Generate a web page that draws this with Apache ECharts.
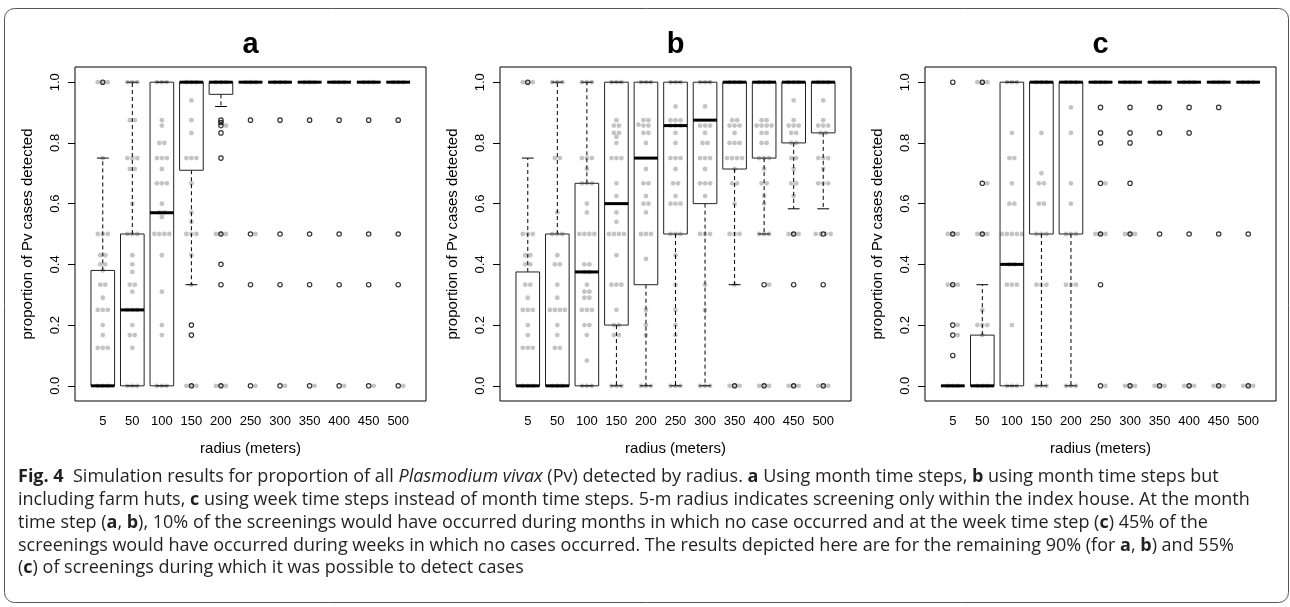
<!DOCTYPE html>
<html><head><meta charset="utf-8">
<script src="https://cdn.jsdelivr.net/npm/echarts@6/dist/echarts.min.js"></script>
<style>html,body{margin:0;padding:0;background:#fff}#c{width:1290px;height:607px}</style>
</head><body><div id="c"></div>
<script>
// ---------- DATA ----------
const radius = ['5','50','100','150','200','250','300','350','400','450','500'];
const yTicks = [0, 0.2, 0.4, 0.6, 0.8, 1.0];

// box stats per radius: [lower whisker, Q1, median, Q3, upper whisker]
const boxA = [
  [0,0,0,0.38,0.75],[0,0,0.25,0.5,1],[0,0,0.57,1,1],[0.333,0.71,1,1,1],[0.92,0.96,1,1,1],
  [1,1,1,1,1],[1,1,1,1,1],[1,1,1,1,1],[1,1,1,1,1],[1,1,1,1,1],[1,1,1,1,1]
];
const boxB = [
  [0,0,0,0.375,0.75],[0,0,0,0.5,1],[0,0,0.375,0.667,1],[0,0.2,0.6,1,1],[0,0.333,0.75,1,1],
  [0,0.5,0.857,1,1],[0,0.6,0.875,1,1],[0.333,0.714,1,1,1],[0.5,0.75,1,1,1],[0.583,0.8,1,1,1],[0.583,0.833,1,1,1]
];
const boxC = [
  [0,0,0,0,0],[0,0,0,0.167,0.333],[0,0,0.4,1,1],[0,0.5,1,1,1],[0,0.5,1,1,1],
  [1,1,1,1,1],[1,1,1,1,1],[1,1,1,1,1],[1,1,1,1,1],[1,1,1,1,1],[1,1,1,1,1]
];

// outliers per radius
const outA = [
  [1],[],[],[0.2,0.167,0],[0.875,0.867,0.857,0.833,0.75,0.5,0.4,0.333,0],
  [0.875,0.5,0.333,0],[0.875,0.5,0.333,0],[0.875,0.5,0.333,0],[0.875,0.5,0.333,0],[0.875,0.5,0.333,0],[0.875,0.5,0.333,0]
];
const outB = [
  [1],[],[],[],[],[],[],[0],[0.333,0],[0.5,0.333,0],[0.5,0.333,0]
];
const outC = [
  [1,0.5,0.333,0.2,0.167,0.1],[1,0.667,0.5],[],[],[],
  [0.917,0.833,0.8,0.667,0.5,0.333,0],[0.917,0.833,0.8,0.667,0.5,0],[0.917,0.833,0.5,0],[0.917,0.833,0.5,0],[0.917,0.5,0],[0.5,0]
];

// individual simulation results (grey dots): [value, number of dots, horizontal shift]
const ptsA = [
  [[1,3],[0.75,1],[0.5,3],[0.43,2],[0.4,2],[0.38,1],[0.333,2],[0.29,1],[0.25,3],[0.2,1],[0.167,1],[0.125,3],[0,3]],
  [[1,3],[0.875,2],[0.75,3],[0.714,2],[0.6,1],[0.5,3],[0.43,1],[0.4,1],[0.375,1],[0.333,2],[0.31,1],[0.25,3],[0.2,1],[0.167,2],[0.125,1],[0,3]],
  [[1,3],[0.875,1],[0.857,1],[0.8,2],[0.75,3],[0.714,1],[0.667,3],[0.6,1],[0.571,2],[0.556,1],[0.5,4],[0.43,1],[0.31,1],[0.2,1],[0.167,1],[0,3]],
  [[1,3],[0.94,1],[0.875,1],[0.833,1],[0.75,3],[0.667,1],[0.571,1],[0.54,1],[0.5,3],[0.43,1],[0.333,1],[0,3]],
  [[1,3],[0.857,1,1],[0.5,3],[0,3]],
  [[1,3],[0.5,1,1],[0,1,1]],
  [[1,3],[0,1,1]],[[1,3],[0,1,1]],[[1,3],[0,1,1]],[[1,3],[0,1,1]],[[1,3],[0,1,1]]
];
const ptsB = [
  [[1,3],[0.5,3],[0.43,2],[0.4,2],[0.333,2],[0.29,1],[0.25,3],[0.2,1],[0.167,1],[0.125,3],[0,3]],
  [[1,3],[0.75,2],[0.571,1],[0.5,3],[0.43,1],[0.4,2],[0.333,1],[0.29,1],[0.25,4],[0.2,1],[0.167,1],[0.125,2],[0,3]],
  [[1,3],[0.75,3],[0.714,1],[0.667,3],[0.6,1],[0.571,1],[0.5,4],[0.4,2],[0.375,2],[0.333,1],[0.31,2],[0.29,2],[0.25,3],[0.2,2],[0.167,1],[0.083,1],[0,3]],
  [[1,3],[0.875,1],[0.857,2],[0.833,2],[0.82,1],[0.8,1],[0.75,3],[0.667,1],[0.625,1],[0.571,1],[0.54,1],[0.5,4],[0.43,1],[0.333,3],[0.25,1],[0.2,2],[0.167,2],[0,3]],
  [[1,3],[0.875,2],[0.86,1,-1.5],[0.857,2],[0.833,2],[0.8,1],[0.714,1],[0.667,2],[0.625,1],[0.6,2],[0.571,1],[0.5,3],[0.418,1],[0.25,1],[0.2,1],[0.167,1],[0,3]],
  [[1,3],[0.92,1],[0.875,3],[0.857,3],[0.833,1],[0.8,1],[0.75,3],[0.714,1],[0.667,2],[0.625,1],[0.6,3],[0.5,3],[0.43,1],[0.333,1],[0.25,1],[0.2,1],[0.167,1],[0,3]],
  [[1,3],[0.92,1],[0.857,3],[0.833,1],[0.8,2],[0.75,3],[0.714,1],[0.667,3],[0.625,1],[0.5,3],[0.333,1],[0.25,1],[0,3]],
  [[1,3],[0.875,2],[0.857,3],[0.833,1],[0.8,3],[0.75,4],[0.714,1],[0.667,2],[0.6,1],[0.5,3],[0.333,1],[0,3]],
  [[1,3],[0.875,2],[0.857,4],[0.833,2],[0.8,2],[0.75,3],[0.714,1],[0.667,2],[0.625,1],[0.6,1],[0.5,3],[0.333,1,1],[0,3]],
  [[1,3],[0.94,1],[0.875,1],[0.857,3],[0.833,2],[0.8,2],[0.75,2],[0.714,1],[0.667,2],[0.625,1],[0.5,3],[0,3]],
  [[1,3],[0.94,1],[0.875,1],[0.857,3],[0.833,2],[0.75,3],[0.714,1],[0.667,3],[0.5,4],[0,3]]
];
const ptsC = [
  [[0.5,3],[0.333,3],[0.2,1,1],[0.167,1,1],[0,3]],
  [[1,3],[0.667,1,1],[0.5,3],[0.25,1],[0.2,3],[0.167,1],[0,3]],
  [[1,3],[0.833,1],[0.75,2],[0.667,1],[0.6,2],[0.5,5],[0.4,2],[0.333,3],[0.2,1],[0,3]],
  [[1,3],[0.833,1],[0.7,1],[0.667,2],[0.6,2],[0.5,3],[0.333,3],[0,3]],
  [[1,3],[0.917,1],[0.833,1],[0.667,1],[0.6,1],[0.5,3],[0.333,3],[0,3]],
  [[1,3],[0.667,1,1],[0.5,3],[0,1,1]],
  [[1,3],[0.5,3],[0,3]],
  [[1,3],[0,3]],[[1,3],[0,3]],[[1,3],[0,3]],[[1,3],[0,3]]
];

const panelTitles = ['a','b','c'];
const yName = 'proportion of Pv cases detected';
const xName = 'radius (meters)';
const captionLines = [
  '{b|Fig. 4}  Simulation results for proportion of all {i|Plasmodium vivax} (Pv) detected by radius. {b|a} Using month time steps, {b|b} using month time steps but',
  'including farm huts, {b|c} using week time steps instead of month time steps. 5-m radius indicates screening only within the index house. At the month',
  'time step ({b|a}, {b|b}), 10% of the screenings would have occurred during months in which no case occurred and at the week time step ({b|c}) 45% of the',
  'screenings would have occurred during weeks in which no cases occurred. The results depicted here are for the remaining 90% (for {b|a}, {b|b}) and 55%',
  '({b|c}) of screenings during which it was possible to detect cases'
];

// ---------- LAYOUT / STYLE ----------
const FONT = 'Liberation Sans, Arial, Helvetica, sans-serif';
const CAPFONT = 'Open Sans, Noto Sans, sans-serif';
const CAPSIZE = 18;
const frameLefts = [75, 500, 925];
const FRAME_W = 351, PAD = 13, TOP = 67, H = 334;
const YMIN = -0.05, YMAX = 1.05;
const DOT_GAP = 5;

const panels = [
  {box: boxA, out: outA, pts: ptsA},
  {box: boxB, out: outB, pts: ptsB},
  {box: boxC, out: outC, pts: ptsC}
];

const grid = [], xAxis = [], yAxis = [], series = [], graphic = [];

function renderBox(params, api) {
  const i = api.value(0);
  const lo = api.value(1), q1 = api.value(2), md = api.value(3), q3 = api.value(4), hi = api.value(5);
  const bw = api.size([1, 0])[0] * 0.8;
  const cx = api.coord([i, 0])[0];
  const y = v => api.coord([i, v])[1];
  const dash = {stroke: '#000', lineWidth: 1, lineDash: [4, 3]};
  const solid = {stroke: '#000', lineWidth: 1};
  return {
    type: 'group',
    children: [
      {type: 'line', shape: {x1: cx, y1: y(q3), x2: cx, y2: y(hi)}, style: dash},
      {type: 'line', shape: {x1: cx, y1: y(q1), x2: cx, y2: y(lo)}, style: dash},
      {type: 'line', shape: {x1: cx - bw / 4, y1: y(hi), x2: cx + bw / 4, y2: y(hi)}, style: solid},
      {type: 'line', shape: {x1: cx - bw / 4, y1: y(lo), x2: cx + bw / 4, y2: y(lo)}, style: solid},
      {type: 'rect', shape: {x: cx - bw / 2, y: y(q3), width: bw, height: y(q1) - y(q3)},
        style: {fill: 'none', stroke: '#222', lineWidth: 1}},
      {type: 'line', shape: {x1: cx - bw / 2, y1: y(md), x2: cx + bw / 2, y2: y(md)},
        style: {stroke: '#000', lineWidth: 3}}
    ]
  };
}

panels.forEach((p, k) => {
  const L = frameLefts[k];
  const gF = k * 2, gI = k * 2 + 1;
  grid.push({left: L, top: TOP, width: FRAME_W, height: H, show: true,
    borderColor: '#000', borderWidth: 1, backgroundColor: 'rgba(0,0,0,0)'});
  grid.push({left: L + PAD, top: TOP, width: FRAME_W - 2 * PAD, height: H});
  xAxis.push({type: 'value', gridIndex: gF, min: 0, max: 1, show: false});
  xAxis.push({type: 'category', gridIndex: gI, data: radius, boundaryGap: true,
    axisLine: {show: false},
    axisTick: {alignWithLabel: true, length: 7, interval: 0, lineStyle: {color: '#000'}},
    axisLabel: {interval: 0, fontSize: 13, color: '#000', fontFamily: FONT, margin: 14},
    name: xName, nameLocation: 'middle', nameGap: 40,
    nameTextStyle: {fontSize: 15, color: '#000', fontFamily: FONT},
    splitLine: {show: false}});
  yAxis.push({type: 'value', gridIndex: gF, min: YMIN, max: YMAX,
    axisLine: {show: false}, splitLine: {show: false},
    axisTick: {show: true, length: 7, customValues: yTicks, lineStyle: {color: '#000'}},
    axisLabel: {customValues: yTicks, rotate: 90, fontSize: 13, color: '#000', fontFamily: FONT, margin: 13,
      formatter: v => v.toFixed(1)},
    name: yName, nameLocation: 'middle', nameRotate: 90, nameGap: 40,
    nameTextStyle: {fontSize: 15, color: '#000', fontFamily: FONT}});
  yAxis.push({type: 'value', gridIndex: gI, min: YMIN, max: YMAX, show: false});

  const dots = [];
  p.pts.forEach((list, i) => {
    list.forEach(([v, n, s]) => {
      for (let j = 0; j < n; j++) {
        dots.push({value: [i, v], symbolOffset: [(j - (n - 1) / 2 + (s || 0)) * DOT_GAP, 0]});
      }
    });
  });
  series.push({type: 'scatter', xAxisIndex: gI, yAxisIndex: gI, data: dots, symbol: 'circle',
    symbolSize: 4.8, itemStyle: {color: '#c4c4c4', opacity: 1}, z: 2, silent: true});

  series.push({type: 'custom', xAxisIndex: gI, yAxisIndex: gI, renderItem: renderBox, clip: false,
    encode: {x: 0, y: [1, 2, 3, 4, 5]},
    data: p.box.map((b, i) => [i].concat(b)), z: 3, silent: true});

  const outs = [];
  p.out.forEach((list, i) => list.forEach(v => outs.push([i, v])));
  series.push({type: 'scatter', xAxisIndex: gI, yAxisIndex: gI, data: outs, symbol: 'circle',
    symbolSize: 4.4, itemStyle: {color: 'rgba(255,255,255,0)', borderColor: '#000', borderWidth: 1.2},
    z: 4, silent: true});

  graphic.push({type: 'text', x: L + FRAME_W / 2, y: 45,
    style: {text: panelTitles[k], align: 'center', verticalAlign: 'middle',
      font: 'bold 29px ' + FONT, fill: '#000'}});
});

const rich = {
  b: {fontWeight: 'bold', fontSize: CAPSIZE, fontFamily: CAPFONT, fill: '#231f20', color: '#231f20'},
  i: {fontStyle: 'italic', fontSize: CAPSIZE, fontFamily: CAPFONT, fill: '#231f20', color: '#231f20'}
};
const capY = [477, 500, 523, 545.5, 568];
captionLines.forEach((t, i) => {
  graphic.push({type: 'text', x: 18, y: capY[i],
    style: {text: t, rich: rich, align: 'left', verticalAlign: 'middle',
      fontSize: CAPSIZE, fontFamily: CAPFONT, fill: '#231f20'}});
});
graphic.push({type: 'rect', shape: {x: 4.5, y: 8.5, width: 1284, height: 594, r: 10},
  style: {fill: 'none', stroke: '#555', lineWidth: 1}});

const chart = echarts.init(document.getElementById('c'), null, {renderer: 'canvas'});
chart.setOption({animation: false, backgroundColor: '#fff', grid, xAxis, yAxis, series, graphic});
</script></body></html>
